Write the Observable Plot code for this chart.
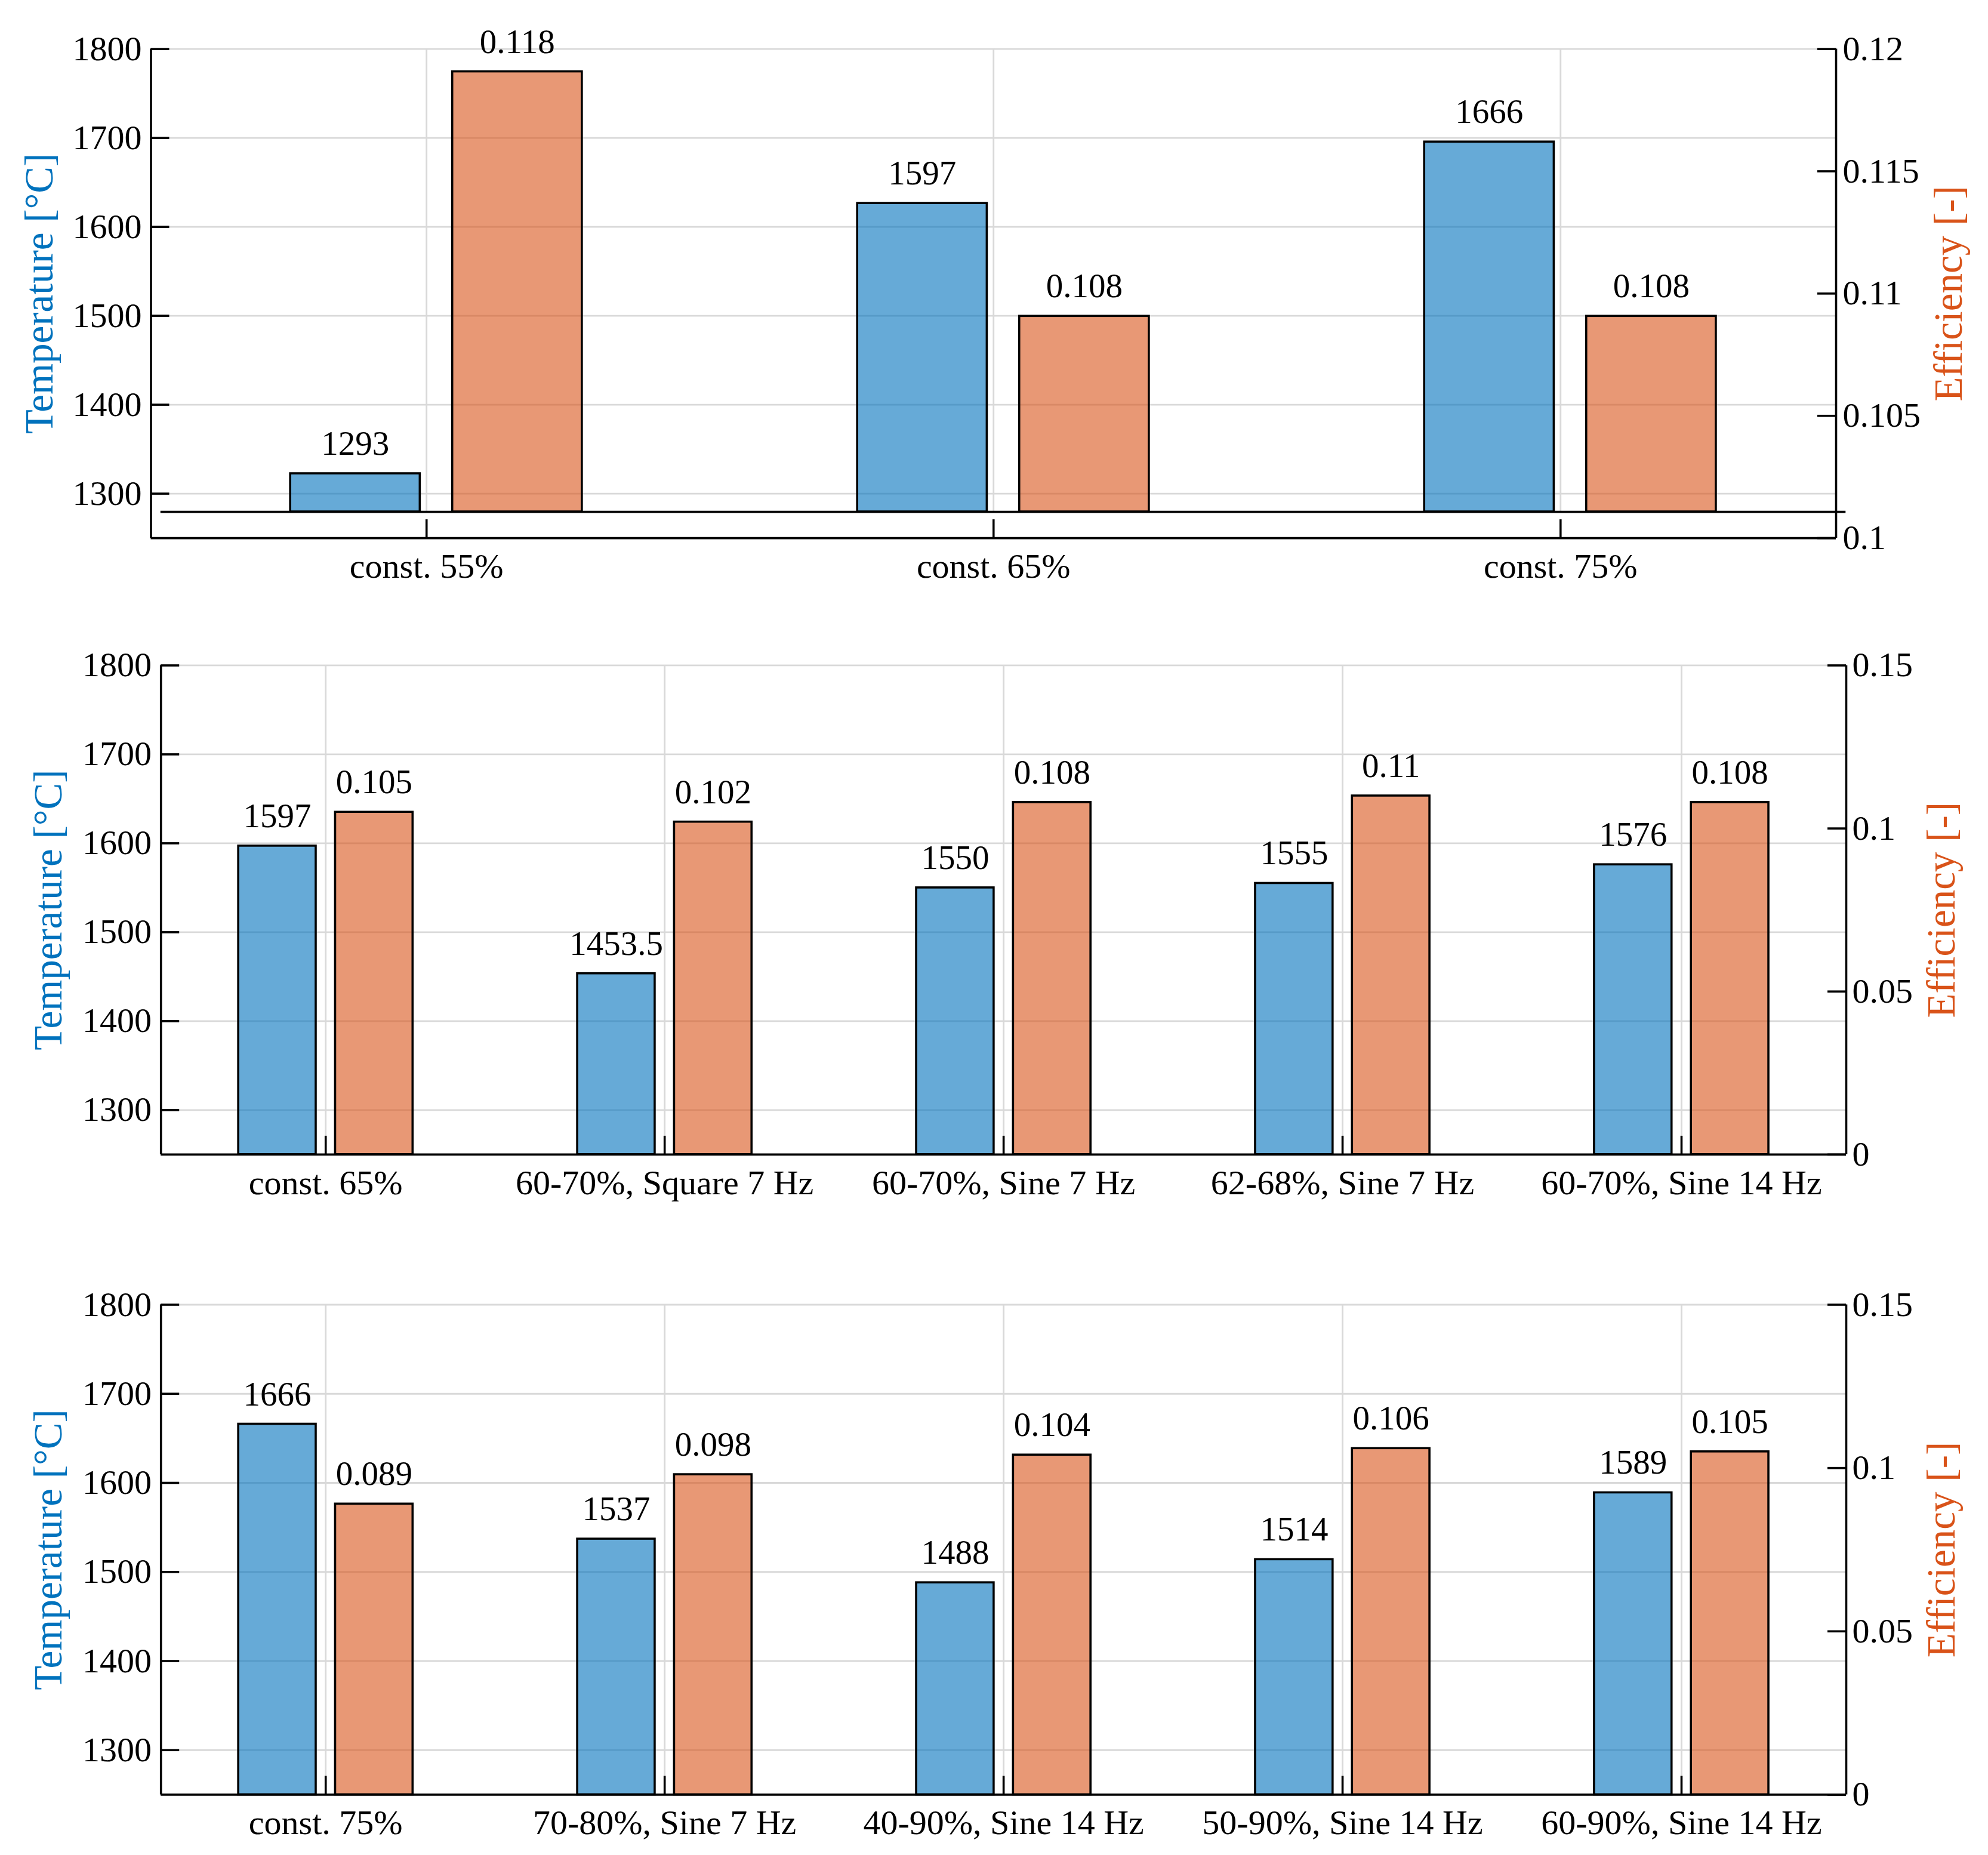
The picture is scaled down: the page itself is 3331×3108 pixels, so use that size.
<!DOCTYPE html>
<html>
<head>
<meta charset="utf-8">
<script src="https://cdn.jsdelivr.net/npm/d3@7"></script>
<script src="https://cdn.jsdelivr.net/npm/@observablehq/plot@0.6"></script>
<style>
  html, body { margin: 0; padding: 0; background: white; }
  #wrap { position: relative; width: 3331px; height: 3108px; background: white; }
  #wrap svg { position: absolute; left: 0; }
</style>
</head>
<body>
<div id="wrap"></div>
<script>
// ---------- data ----------
const topCategories = ["const. 55%", "const. 65%", "const. 75%"];
const topTemperature = [1293, 1597, 1666];
const topEfficiency = [0.118, 0.108, 0.108];

const midCategories = ["const. 65%", "60-70%, Square 7 Hz", "60-70%, Sine 7 Hz", "62-68%, Sine 7 Hz", "60-70%, Sine 14 Hz"];
const midTemperature = [1597, 1453.5, 1550, 1555, 1576];
const midEfficiency = [0.105, 0.102, 0.108, 0.11, 0.108];

const botCategories = ["const. 75%", "70-80%, Sine 7 Hz", "40-90%, Sine 14 Hz", "50-90%, Sine 14 Hz", "60-90%, Sine 14 Hz"];
const botTemperature = [1666, 1537, 1488, 1514, 1589];
const botEfficiency = [0.089, 0.098, 0.104, 0.106, 0.105];

const tempTicks = [1300, 1400, 1500, 1600, 1700, 1800];
const tempDomain = [1250, 1800];
const effTicksTop = [0.1, 0.105, 0.11, 0.115, 0.12];
const effDomainTop = [0.1, 0.12];
const effTicksLower = [0, 0.05, 0.1, 0.15];
const effDomainLower = [0, 0.15];

// ---------- style ----------
const BLUE = "#0072BD", ORANGE = "#D95319";
const FONT = "'Liberation Serif', 'DejaVu Serif', serif";
const W = 3331;
const xPad = 0.486, groupOffset = 0.1429, barW = 0.2286;

function panel(o) {
  const {cats, temp, eff, effTicks, effDomain, height, top, mt, mb, ml, mr,
         shiftX = 0, shiftY = 0, gridInsetBottom = 0, leftTitleDx, rightTitleDx, rightPad} = o;
  const n = cats.length;
  const frameW = W - ml - mr, frameH = height - mt - mb;
  const toLeft = e => tempDomain[0] + (e - effDomain[0]) / (effDomain[1] - effDomain[0]) * (tempDomain[1] - tempDomain[0]);
  const effTickLeft = effTicks.map(toLeft);
  const effLabel = new Map(effTickLeft.map((v, i) => [v, String(effTicks[i])]));
  const rows = cats.map((c, i) => ({c, i: i + 1, temp: temp[i], eff: eff[i]}));
  const xs = rows.map(d => d.i);
  const xDomain = [1 - xPad, n + xPad];
  const tickLen = 31;
  const fr = {stroke: "black", strokeWidth: 3.6};

  const svg = Plot.plot({
    width: W, height,
    marginTop: mt, marginBottom: mb, marginLeft: ml, marginRight: mr,
    style: {fontFamily: FONT, fontSize: "58px", background: "white", color: "black", overflow: "visible"},
    x: {type: "linear", domain: xDomain},
    y: {domain: tempDomain},
    marks: [
      // grid
      Plot.ruleY(tempTicks, {stroke: "#d9d9d9", strokeWidth: 2.8}),
      Plot.ruleX(xs, {stroke: "#d9d9d9", strokeWidth: 2.8, insetBottom: gridInsetBottom}),
      // bars
      Plot.rectY(rows, {x1: d => d.i - groupOffset - barW / 2, x2: d => d.i - groupOffset + barW / 2,
        y1: () => tempDomain[0], y2: d => d.temp, fill: BLUE, fillOpacity: 0.6, stroke: "black", strokeWidth: 3.6,
        dx: shiftX, dy: shiftY}),
      Plot.rectY(rows, {x1: d => d.i + groupOffset - barW / 2, x2: d => d.i + groupOffset + barW / 2,
        y1: () => tempDomain[0], y2: d => toLeft(d.eff), fill: ORANGE, fillOpacity: 0.6, stroke: "black", strokeWidth: 3.6,
        dx: shiftX, dy: shiftY}),
      // value labels
      Plot.text(rows, {x: d => d.i - groupOffset, y: d => d.temp, text: d => String(d.temp),
        lineAnchor: "bottom", dx: shiftX, dy: shiftY - 31.5, fontSize: 57, fill: "black"}),
      Plot.text(rows, {x: d => d.i + groupOffset, y: d => toLeft(d.eff), text: d => String(d.eff),
        lineAnchor: "bottom", dx: shiftX, dy: shiftY - 31.5, fontSize: 57, fill: "black"}),
      // shifted baseline (top panel)
      ...(shiftY !== 0 ? [Plot.ruleY([tempDomain[0]], {...fr, dx: shiftX, dy: shiftY})] : []),
      // frame
      Plot.ruleX([xDomain[0]], fr),
      Plot.ruleX([xDomain[1]], fr),
      Plot.ruleY([tempDomain[0]], fr),
      // inward ticks
      Plot.ruleY(tempTicks, {...fr, insetRight: frameW - tickLen}),
      Plot.ruleY(effTickLeft, {...fr, insetLeft: frameW - tickLen}),
      Plot.ruleX(xs, {...fr, insetTop: frameH - tickLen}),
      // axes labels
      Plot.axisY({ticks: tempTicks, anchor: "left", tickSize: 0, tickPadding: 15.6, label: null, fontSize: 58,
        tickFormat: v => String(v)}),
      Plot.axisY({ticks: effTickLeft, anchor: "right", tickSize: 0, tickPadding: rightPad, label: null, fontSize: 58,
        tickFormat: v => effLabel.get(v)}),
      Plot.axisX({ticks: xs, tickFormat: v => cats[Math.round(v) - 1], tickSize: 0, tickPadding: 25, label: null, fontSize: 58}),
      // axis titles
      Plot.text(["Temperature [°C]"], {frameAnchor: "left", textAnchor: "middle", rotate: -90, lineAnchor: "bottom",
        dx: leftTitleDx, fill: BLUE, fontSize: 67}),
      Plot.text(["Efficiency [-]"], {frameAnchor: "right", textAnchor: "middle", rotate: -90, lineAnchor: "bottom",
        dx: rightTitleDx, fill: ORANGE, fontSize: 67})
    ]
  });
  svg.style.top = top + "px";
  document.getElementById("wrap").appendChild(svg);
}

panel({cats: topCategories, temp: topTemperature, eff: topEfficiency,
  effTicks: effTicksTop, effDomain: effDomainTop,
  height: 1040, top: 0, mt: 81.6, mb: 138.9, ml: 252.5, mr: 255,
  shiftX: 16.3, shiftY: -44, gridInsetBottom: 44,
  leftTitleDx: -165, rightTitleDx: 210, rightPad: 11});

panel({cats: midCategories, temp: midTemperature, eff: midEfficiency,
  effTicks: effTicksLower, effDomain: effDomainLower,
  height: 1040, top: 1040, mt: 74.4, mb: 146.1, ml: 269.2, mr: 238,
  leftTitleDx: -166.5, rightTitleDx: 181.7, rightPad: 10});

panel({cats: botCategories, temp: botTemperature, eff: botEfficiency,
  effTicks: effTicksLower, effDomain: effDomainLower,
  height: 1028, top: 2080, mt: 105.5, mb: 101.6, ml: 269.2, mr: 238,
  leftTitleDx: -166.5, rightTitleDx: 181.7, rightPad: 10});
</script>
</body>
</html>
